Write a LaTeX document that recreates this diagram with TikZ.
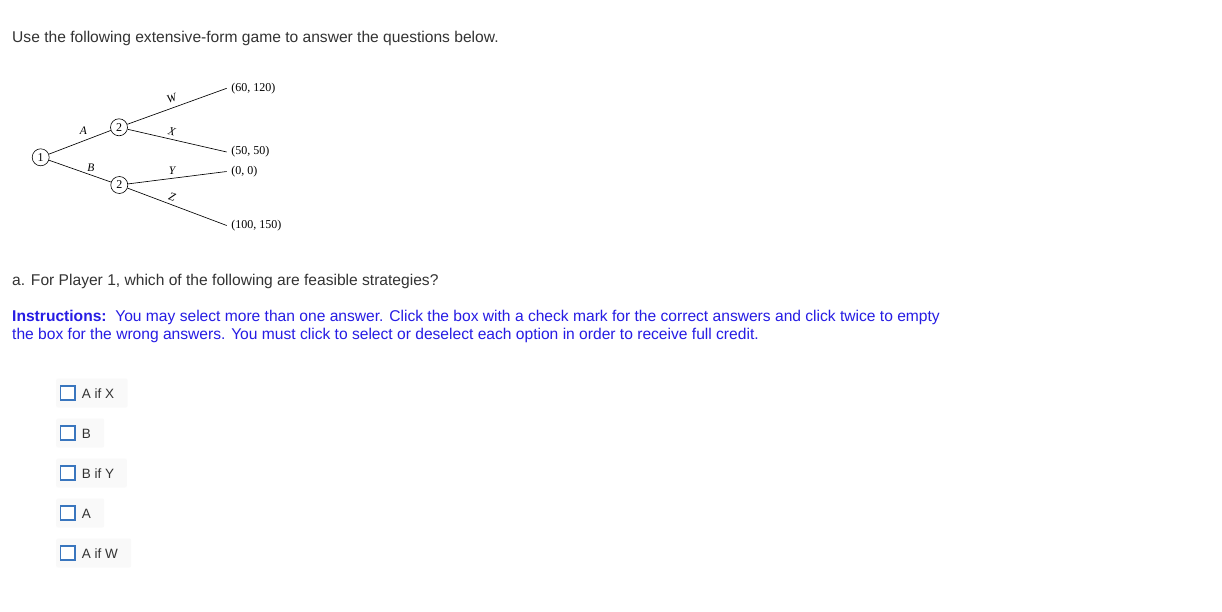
\documentclass[tikz,border=0pt]{standalone}
\usepackage{fontspec}
\setmainfont{Liberation Sans}
\newfontfamily\treefont{Liberation Serif}
\definecolor{txt}{RGB}{51,51,51}
\definecolor{instr}{RGB}{38,28,228}
\definecolor{cbblue}{RGB}{58,118,190}
\definecolor{optbg}{RGB}{249,249,249}
\begin{document}
\begin{tikzpicture}[x=1pt,y=-1pt,
  para/.style={anchor=west,inner sep=0pt,text=txt,font=\fontsize{15.6}{18}\selectfont},
  player/.style={circle,draw,line width=0.6pt,minimum size=17pt,inner sep=0pt,font=\treefont\fontsize{12}{12}\selectfont},
  leaf/.style={anchor=west,inner xsep=4.5pt,inner ysep=0pt,font=\treefont\fontsize{12}{12}\selectfont},
  move/.style={inner sep=0pt,font=\treefont\itshape\fontsize{11.5}{12}\selectfont},
  branch/.style={line width=0.65pt},
  optbox/.style={anchor=west,fill=optbg,rounded corners=2pt,minimum height=29pt,inner sep=0pt},
  cbox/.style={draw=cbblue,line width=1.7pt,minimum size=14.5pt,inner sep=0pt,anchor=west,fill=white},
  optlabel/.style={anchor=west,inner sep=0pt,text=txt,font=\fontsize{13.5}{16}\selectfont}
]
\useasboundingbox[fill=white] (0,0) rectangle (1222,612);
\node[para] (intro) at (12,38.5) {Use the following extensive-form game to answer the questions below.};

% game tree
\node[player] (p1) at (40.7,157.3) {1};
\node[player] (p2a) at (119,127.3) {2};
\node[player] (p2b) at (119.3,185) {2};
\node[leaf] (lw) at (226.7,88.3) {(60, 120)};
\node[leaf] (lx) at (226.7,152) {(50, 50)};
\node[leaf] (ly) at (226.7,171.5) {(0, 0)};
\node[leaf] (lz) at (226.7,225.5) {(100, 150)};
\draw[branch] (p1) -- (p2a);
\draw[branch] (p1) -- (p2b);
\draw[branch] (p2a) -- (lw.west);
\draw[branch] (p2a) -- (lx.west);
\draw[branch] (p2b) -- (ly.west);
\draw[branch] (p2b) -- (lz.west);
\node[move] (mA) at (83.3,131) {A};
\node[move] (mB) at (91,167.5) {B};
\node[move,rotate=19] (mW) at (171.7,98.5) {W};
\node[move,rotate=-13] (mX) at (172,132) {X};
\node[move] (mY) at (172,171) {Y};
\node[move,rotate=-19] (mZ) at (172,196.5) {Z};

\node[para] (qa) at (12,281.5) {a. For Player 1, which of the following are feasible strategies?};
\node[anchor=north west,inner sep=0pt,align=left,text=instr,font=\fontsize{15.6}{18}\selectfont] (ins) at (12,309.5)
  {\textbf{Instructions:}\ \ You may select more than one answer. Click the box with a check mark for the correct answers and click twice to empty\\
   the box for the wrong answers. You must click to select or deselect each option in order to receive full credit.};

% options
\node[optbox,minimum width=71.5pt] (bg1) at (56,393) {};
\node[cbox] (cb1) at (59.5,393) {};
\node[optlabel] (t1) at (81.7,393.5) {A if X};
\node[optbox,minimum width=48pt] (bg2) at (56,433) {};
\node[cbox] (cb2) at (59.5,433) {};
\node[optlabel] (t2) at (81.7,433.5) {B};
\node[optbox,minimum width=70.7pt] (bg3) at (56,473) {};
\node[cbox] (cb3) at (59.5,473) {};
\node[optlabel] (t3) at (81.7,473.5) {B if Y};
\node[optbox,minimum width=48pt] (bg4) at (56,513) {};
\node[cbox] (cb4) at (59.5,513) {};
\node[optlabel] (t4) at (81.7,513.5) {A};
\node[optbox,minimum width=75pt] (bg5) at (56,553) {};
\node[cbox] (cb5) at (59.5,553) {};
\node[optlabel] (t5) at (81.7,553.5) {A if W};
\end{tikzpicture}
\end{document}
